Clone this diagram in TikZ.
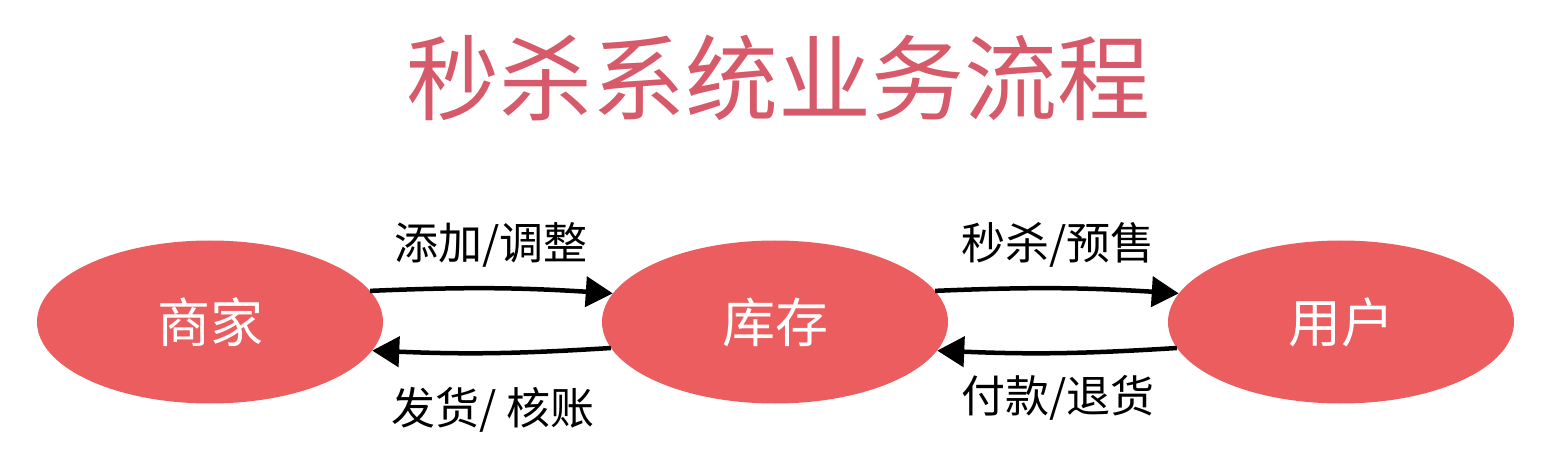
\documentclass[tikz,border=0pt]{standalone}
\usepackage{fontspec}
\setmainfont{Noto Sans CJK SC}
\newfontfamily\cjk{Noto Sans CJK SC}
\usetikzlibrary{shapes.geometric,arrows.meta}
\definecolor{titlered}{HTML}{D65A6A}
\definecolor{ellred}{HTML}{EB5D5E}
\tikzset{
  ellnode/.style={ellipse, fill=ellred, draw=none, minimum width=346pt, minimum height=163pt, inner sep=0pt, text=white, font=\cjk\fontsize{53}{55}\selectfont},
  flow/.style={line width=4.5pt, black, -{Triangle[length=27pt,width=30pt]}, bend left=3},
  lbl/.style={font=\cjk\fontsize{44}{46}\selectfont, text=black},
  ttl/.style={font=\cjk\fontsize{93}{95}\selectfont, text=titlered}
}
\begin{document}
\begin{tikzpicture}[x=1pt,y=-1pt]
\useasboundingbox (0,0) rectangle (1543,473);
\node[ttl] (title) at (778,78) {秒杀系统业务流程};
\node[ellnode] (a) at (210,322) {商家};
\node[ellnode] (b) at (775,322) {库存};
\node[ellnode] (c) at (1341,322) {用户};
\draw[flow] (a.11) to (b.170);
\draw[flow] (b.189) to (a.-10);
\draw[flow] (b.11) to (c.170);
\draw[flow] (c.189) to (b.-10);
\node[lbl] (l1) at (491,245) {添加/调整};
\node[lbl] (l2) at (493,410) {发货/ 核账};
\node[lbl] (l3) at (1058,245) {秒杀/预售};
\node[lbl] (l4) at (1058,398) {付款/退货};
\end{tikzpicture}
\end{document}
